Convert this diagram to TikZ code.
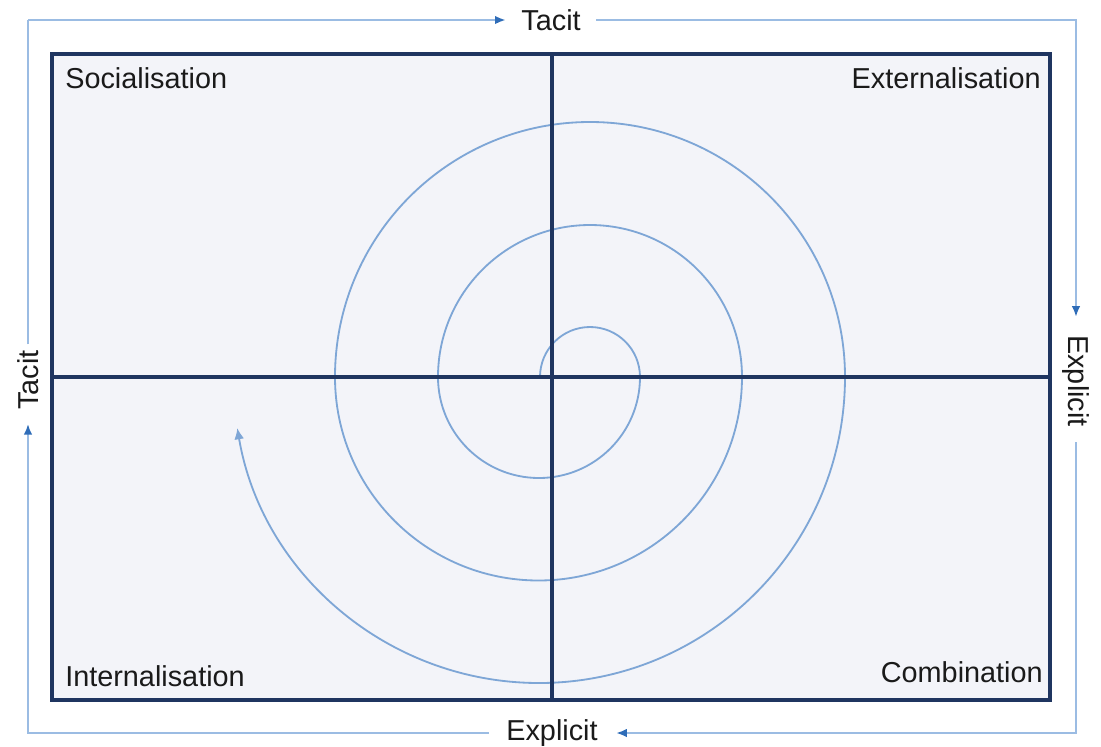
\documentclass[tikz,border=0pt]{standalone}
\usepackage{fontspec}
\setmainfont{Liberation Sans}
\usetikzlibrary{arrows.meta}
\definecolor{frameblue}{HTML}{9BBCE3}
\definecolor{tipblue}{HTML}{2F6DB8}
\definecolor{navy}{HTML}{1F3560}
\definecolor{panel}{HTML}{F3F4F9}
\definecolor{spiralblue}{HTML}{7EA6D6}
\definecolor{txt}{HTML}{1A1A1A}
\begin{document}
\begin{tikzpicture}[x=0.025cm,y=0.025cm,
  frame/.style={draw=frameblue,line width=1.3pt},
  tipped/.style={-{Latex[length=7.5pt,width=6pt,color=tipblue]}},
  lbl/.style={text=txt,font=\fontsize{20.5}{24}\selectfont,inner sep=0pt},
  boxline/.style={draw=navy,line width=2.2pt},
  spiralline/.style={draw=spiralblue,line width=1.3pt}]
\useasboundingbox (0,0) rectangle (1101,-746);
% inner panel
\coordinate (p1) at (52,-54);
\coordinate (p2) at (1050,-700);
\fill[panel] (p1) rectangle (p2);
% spiral
\coordinate (s0) at (540,-377);
\draw[spiralline,-{Latex[length=8pt,width=7pt]}] (s0)
  arc (180:0:50) arc (0:-180:101) arc (180:0:152)
  arc (0:-180:203.5) arc (180:0:255) arc (0:-170.4:306);
% box and axes
\draw[boxline] (p1) rectangle (p2);
\coordinate (vt) at (552,-54);
\coordinate (vb) at (552,-700);
\coordinate (hl) at (52,-377);
\coordinate (hr) at (1050,-377);
\draw[boxline] (vt) -- (vb);
\draw[boxline] (hl) -- (hr);
% quadrant labels
\node[lbl,anchor=west] (soc) at (65,-78) {Socialisation};
\node[lbl,anchor=east] (ext) at (1041,-78) {Externalisation};
\node[lbl,anchor=west] (int) at (65,-676) {Internalisation};
\node[lbl,anchor=east] (com) at (1043,-672) {Combination};
% outer frame labels
\node[lbl] (tT) at (551,-20) {Tacit};
\node[lbl] (eB) at (552,-733) {Explicit};
\node[lbl,rotate=90] (tL) at (28,-380) {Tacit};
\node[lbl,rotate=-90] (eR) at (1076,-381) {Explicit};
\coordinate (c1) at (28,-20);
\coordinate (c2) at (1076,-20);
\coordinate (c3) at (1076,-733);
\coordinate (c4) at (28,-733);
\draw[frame,tipped] (c1) -- ([xshift=-11pt]tT.west);
\draw[frame,tipped] ([xshift=11pt]tT.east) -- (c2) -- ([yshift=13pt]eR.west);
\draw[frame,tipped] ([yshift=-11pt]eR.east) -- (c3) -- ([xshift=13pt]eB.east);
\draw[frame,tipped] ([xshift=-12pt]eB.west) -- (c4) -- ([yshift=-10pt]tL.west);
\draw[frame] ([yshift=4pt]tL.east) -- (c1);
\end{tikzpicture}
\end{document}
